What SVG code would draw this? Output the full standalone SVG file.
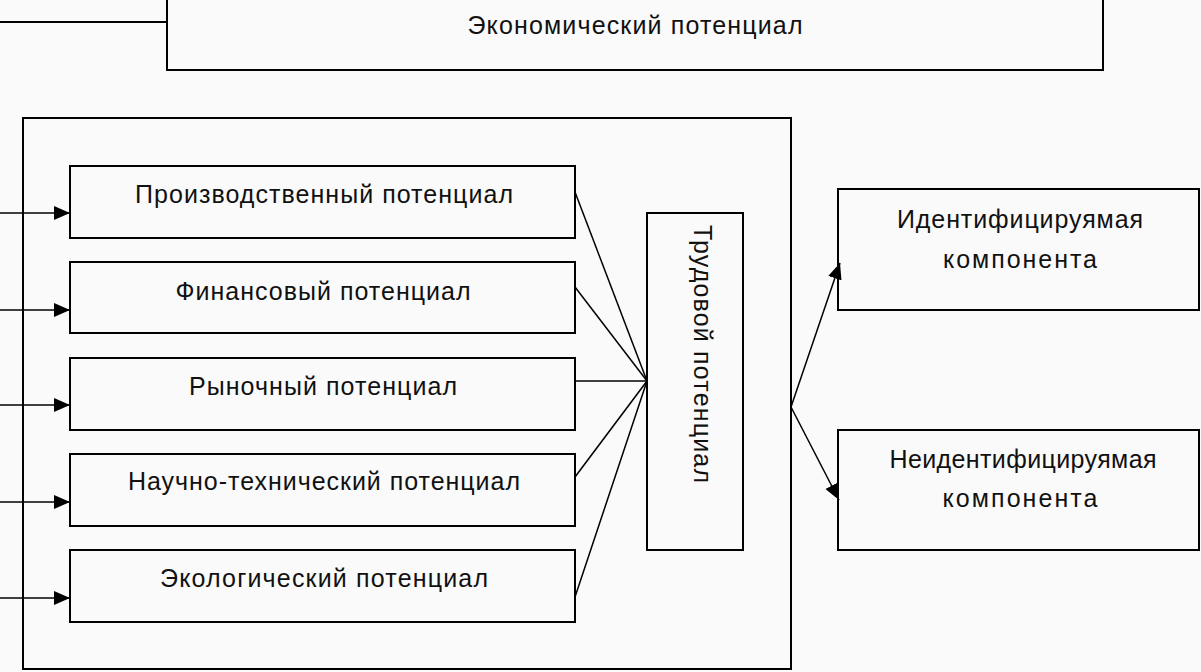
<svg xmlns="http://www.w3.org/2000/svg" width="1201" height="672" viewBox="0 0 1201 672">
<defs>
<style>
.box{fill:none;stroke:#000;stroke-width:2}
.ln{fill:none;stroke:#000;stroke-width:1.5}
.t{font-family:"Liberation Sans",Arial,sans-serif;font-size:25px;fill:#111;text-anchor:middle}
</style>
<marker id="ah" markerUnits="userSpaceOnUse" markerWidth="16" markerHeight="16" viewBox="0 0 16 16" refX="16" refY="8" orient="auto">
<path d="M0,1 L16,8 L0,15 Z" fill="#000"/>
</marker>
</defs>
<rect width="1201" height="672" fill="#fafafa"/>
<g id="economic">
<rect class="box" x="167" y="-5" width="936" height="75"/>
<text class="t" x="635" y="34" textLength="335" lengthAdjust="spacing">Экономический потенциал</text>
</g>
<g id="container">
<rect class="box" x="23" y="118" width="768" height="551"/>
</g>
<g id="n1">
<rect class="box" x="70" y="166" width="505" height="72"/>
<text class="t" x="324" y="203" textLength="378" lengthAdjust="spacing">Производственный потенциал</text>
</g>
<g id="n2">
<rect class="box" x="70" y="262" width="505" height="71"/>
<text class="t" x="323" y="300" textLength="295" lengthAdjust="spacing">Финансовый потенциал</text>
</g>
<g id="n3">
<rect class="box" x="70" y="358" width="505" height="72"/>
<text class="t" x="323" y="395" textLength="268" lengthAdjust="spacing">Рыночный потенциал</text>
</g>
<g id="n4">
<rect class="box" x="70" y="454" width="505" height="72"/>
<text class="t" x="324" y="490" textLength="392" lengthAdjust="spacing">Научно-технический потенциал</text>
</g>
<g id="n5">
<rect class="box" x="70" y="550" width="505" height="72"/>
<text class="t" x="324" y="587" textLength="328" lengthAdjust="spacing">Экологический потенциал</text>
</g>
<g id="labor">
<rect class="box" x="647" y="213" width="96" height="337"/>
<text class="t" transform="translate(694,354) rotate(90)" textLength="258" lengthAdjust="spacing">Трудовой потенциал</text>
</g>
<g id="ident">
<rect class="box" x="838" y="189" width="361" height="121"/>
<text class="t" x="1020" y="228" textLength="246" lengthAdjust="spacing">Идентифицируямая</text>
<text class="t" x="1020" y="268" textLength="154" lengthAdjust="spacing">компонента</text>
</g>
<g id="nonident">
<rect class="box" x="838" y="430" width="361" height="120"/>
<text class="t" x="1023" y="468" textLength="267" lengthAdjust="spacing">Неидентифицируямая</text>
<text class="t" x="1020" y="507" textLength="155" lengthAdjust="spacing">компонента</text>
</g>
<g id="connectors">
<path class="box" d="M0,22 H167"/>
<path class="ln" d="M0,213 H70" marker-end="url(#ah)"/>
<path class="ln" d="M0,310 H70" marker-end="url(#ah)"/>
<path class="ln" d="M0,405 H70" marker-end="url(#ah)"/>
<path class="ln" d="M0,502 H70" marker-end="url(#ah)"/>
<path class="ln" d="M0,598 H70" marker-end="url(#ah)"/>
<path class="ln" d="M575,192 L647,381"/>
<path class="ln" d="M575,287 L647,381"/>
<path class="ln" d="M575,381 L647,381"/>
<path class="ln" d="M575,477 L647,381"/>
<path class="ln" d="M575,597 L647,381"/>
<path class="ln" d="M791,407 L840,263" marker-end="url(#ah)"/>
<path class="ln" d="M791,407 L839,500" marker-end="url(#ah)"/>
</g>
</svg>
